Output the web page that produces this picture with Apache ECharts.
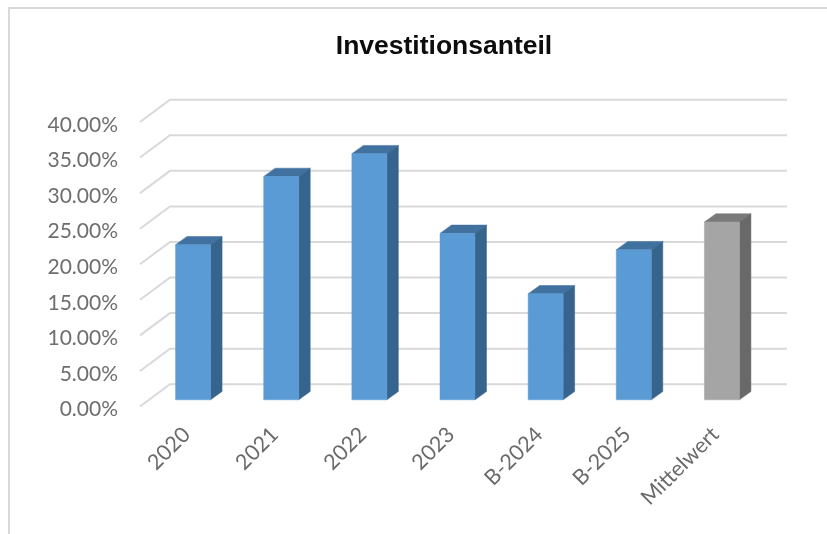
<!DOCTYPE html>
<html><head><meta charset="utf-8">
<script src="https://cdn.jsdelivr.net/npm/echarts@6/dist/echarts.min.js"></script>
<style>html,body{margin:0;padding:0;background:#fff}#c{width:827px;height:534px}</style>
</head><body><div id="c"></div>
<script>
const chartTitle = 'Investitionsanteil';
const categories = ['2020','2021','2022','2023','B-2024','B-2025','Mittelwert'];
const investValues = [21.8,31.4,34.6,23.4,14.9,21.1,null];
const meanValues = [null,null,null,null,null,null,25.0];
const yTicks = [0,5,10,15,20,25,30,35,40];

const wallDx = 30, wallDy = -22.3;      // projection of the floor depth
const barInset = 0.3;                   // bars stand this far into the floor
const barDx = 11.5, barDy = -8.3;       // bar depth
const barFrac = 0.397;

function bar3d(colors){
  return function(params, api){
    const i = api.value(0), v = api.value(1);
    if (v == null || isNaN(v)) return;
    const w = api.size([1,0])[0]*barFrac;
    const top = api.coord([i,v]), base = api.coord([i,0]);
    const ox = wallDx*barInset, oy = wallDy*barInset;
    const x0 = top[0]+ox-w/2, x1 = x0+w, yT = top[1]+oy, yB = base[1]+oy;
    const poly = (pts,fill)=>({type:'polygon',shape:{points:pts},style:{fill,stroke:fill,lineWidth:.5}});
    return {type:'group',children:[
      poly([[x0,yT],[x1,yT],[x1+barDx,yT+barDy],[x0+barDx,yT+barDy]],colors.top),
      poly([[x1,yT],[x1+barDx,yT+barDy],[x1+barDx,yB+barDy],[x1,yB]],colors.side),
      poly([[x0,yT],[x1,yT],[x1,yB],[x0,yB]],colors.front)
    ]};
  };
}
function wall(params, api){
  const v = api.value(0);
  const a = api.coord([0,v]);
  const left = a[0]-api.size([1,0])[0]/2;
  const right = left+api.size([1,0])[0]*categories.length;
  return {type:'polyline',shape:{points:[[left,a[1]],[left+wallDx,a[1]+wallDy],[right+wallDx,a[1]+wallDy]]},
    style:{fill:'none',stroke:'#d9d9d9',lineWidth:2}};
}
const chart = echarts.init(document.getElementById('c'),null,{renderer:'canvas'});
chart.setOption({
  animation:false,
  backgroundColor:'#fff',
  title:{text:chartTitle,left:439,top:28,textAlign:'center',
    textStyle:{fontFamily:'Liberation Sans',fontWeight:'bold',fontSize:26.5,color:'#0d0d0d'}},
  grid:{left:140,top:122,width:617,height:284.5,containLabel:false},
  xAxis:{type:'category',data:categories,axisLine:{show:false},axisTick:{show:false},splitLine:{show:false},
    axisLabel:{interval:0,rotate:45,margin:22,verticalAlign:'top',lineHeight:7,fontFamily:'Lato',fontSize:21.5,color:'#6a6a6a'}},
  yAxis:{type:'value',min:0,max:40,interval:5,axisLine:{show:false},axisTick:{show:false},splitLine:{show:false},
    axisLabel:{margin:22,verticalAlign:'top',lineHeight:6,fontFamily:'Lato',fontSize:21,color:'#6e6e6e',formatter:v=>v.toFixed(2)+'%'}},
  graphic:[
    {type:'polyline',shape:{points:[[9,534],[9,8],[827,8]]},style:{fill:'none',stroke:'#d9d9d9',lineWidth:2},silent:true}
  ],
  series:[
    {type:'custom',name:'Raster',z:1,silent:true,clip:false,data:yTicks.map(v=>[v]),encode:{y:0},renderItem:wall},
    {type:'custom',name:'Investitionsanteil',z:2,clip:false,
      data:investValues.map((v,i)=>[i,v]),encode:{x:0,y:1},
      renderItem:bar3d({front:'#5b9bd5',side:'#37648c',top:'#41719f'})},
    {type:'custom',name:'Mittelwert',z:2,clip:false,
      data:meanValues.map((v,i)=>[i,v]),encode:{x:0,y:1},
      renderItem:bar3d({front:'#a5a5a5',side:'#696969',top:'#7a7a7a'})}
  ]
});
</script></body></html>
